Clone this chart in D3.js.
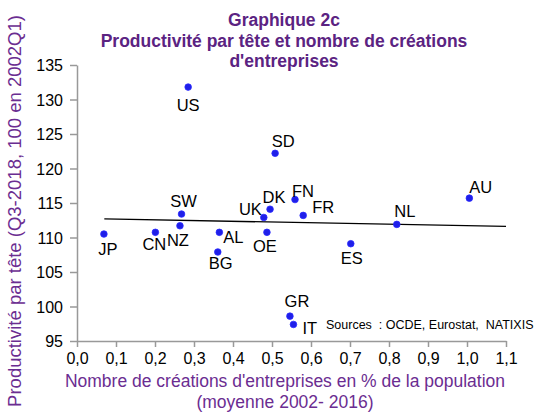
<!DOCTYPE html>
<html>
<head>
<meta charset="utf-8">
<script src="https://cdn.jsdelivr.net/npm/d3@7"></script>
<style>
  body { margin: 0; background: #fff; }
  svg { font-family: "Liberation Sans", Arial, sans-serif; }
</style>
</head>
<body>
<div id="chart"></div>
<script>
// valeurs
const countries = ['US', 'SD', 'SW', 'NZ', 'JP', 'CN', 'AL', 'BG', 'UK', 'DK', 'OE', 'FN', 'FR', 'NL', 'AU', 'ES', 'GR', 'IT'];
const creations = [0.285, 0.508, 0.268, 0.264, 0.069, 0.201, 0.365, 0.361, 0.479, 0.495, 0.487, 0.559, 0.580, 0.820, 1.006, 0.702, 0.546, 0.555];
const productivity = [131.8, 122.2, 113.4, 111.7, 110.5, 110.75, 110.75, 107.9, 112.9, 114.1, 110.75, 115.5, 113.2, 111.9, 115.7, 109.1, 98.6, 97.4];
const trendX = [0.07, 1.1];
const trendY = [112.7, 111.6];
const xTicks = [0, 0.1, 0.2, 0.3, 0.4, 0.5, 0.6, 0.7, 0.8, 0.9, 1.0, 1.1];
const yTicks = [95, 100, 105, 110, 115, 120, 125, 130, 135];

// placement des étiquettes (dx, dy, ancrage)
const labelPos = {
  US: [0, 24, 'middle'], SD: [8, -6, 'middle'], SW: [2, -7, 'middle'],
  NZ: [-2, 20, 'middle'], JP: [4, 21, 'middle'], CN: [-1, 18, 'middle'],
  AL: [4, 11, 'start'], BG: [3, 17, 'middle'], UK: [-2, -2, 'end'],
  DK: [4, -6, 'middle'], OE: [-2, 20, 'middle'], FN: [8, -3, 'middle'],
  FR: [9, -2, 'start'], NL: [8, -7, 'middle'], AU: [0, -5, 'start'],
  ES: [1, 20, 'middle'], GR: [7, -9, 'middle'], IT: [9, 10, 'start']
};

const width = 535, height = 412;
const margin = { top: 65, right: 29, bottom: 71, left: 77 };

const svg = d3.select('#chart').append('svg')
  .attr('width', width).attr('height', height);

const x = d3.scaleLinear().domain([0, 1.1]).range([margin.left, width - margin.right]);
const y = d3.scaleLinear().domain([95, 135]).range([height - margin.bottom, margin.top]);

const fmt = d => d3.format('.1f')(d).replace('.', ',');

// axes
const xAxis = svg.append('g')
  .attr('transform', `translate(0,${y(95)})`)
  .call(d3.axisBottom(x).tickValues(xTicks).tickFormat(fmt).tickSize(6).tickSizeOuter(0).tickPadding(6));
const yAxis = svg.append('g')
  .attr('transform', `translate(${x(0)},0)`)
  .call(d3.axisLeft(y).tickValues(yTicks).tickSize(7).tickSizeOuter(0).tickPadding(7));

[xAxis, yAxis].forEach(g => {
  g.selectAll('path, line').attr('stroke', '#999').attr('stroke-width', 1.5);
  g.selectAll('text').attr('fill', '#000').style('font-size', '16px')
    .style('font-family', '"Liberation Sans", Arial, sans-serif');
});
yAxis.selectAll('text').attr('dy', '0.35em');

// droite de tendance
svg.append('line')
  .attr('x1', x(trendX[0])).attr('y1', y(trendY[0]))
  .attr('x2', x(trendX[1])).attr('y2', y(trendY[1]))
  .attr('stroke', '#000').attr('stroke-width', 1.3);

// points
const pts = countries.map((c, i) => ({ c, x: creations[i], y: productivity[i] }));
svg.append('g').selectAll('circle').data(pts).join('circle')
  .attr('cx', d => x(d.x)).attr('cy', d => y(d.y)).attr('r', 3.3)
  .attr('fill', '#1f1fe8').attr('stroke', '#2a2aff').attr('stroke-width', 0.8);

svg.append('g').selectAll('text').data(pts).join('text')
  .attr('x', d => x(d.x) + labelPos[d.c][0])
  .attr('y', d => y(d.y) + labelPos[d.c][1])
  .attr('text-anchor', d => labelPos[d.c][2])
  .style('font-size', '16.5px')
  .text(d => d.c);

// sources
svg.append('text').attr('x', 326).attr('y', 329)
  .style('font-size', '12.5px').attr('fill', '#000')
  .attr('xml:space', 'preserve')
  .text('Sources  : OCDE, Eurostat,  NATIXIS');

// titre
const title = ['Graphique 2c', 'Productivité par tête et nombre de créations', "d'entreprises"];
svg.append('g').selectAll('text').data(title).join('text')
  .attr('x', 284).attr('y', (d, i) => 26 + i * 20.5)
  .attr('text-anchor', 'middle')
  .attr('fill', '#5b2382').style('font-weight', 'bold').style('font-size', '17.5px')
  .text(d => d);

// titres des axes
svg.append('text').attr('x', 285).attr('y', 387)
  .attr('text-anchor', 'middle').attr('fill', '#6b2d91').style('font-size', '17.5px')
  .text("Nombre de créations d'entreprises en % de la population");
svg.append('text').attr('x', 285).attr('y', 408)
  .attr('text-anchor', 'middle').attr('fill', '#6b2d91').style('font-size', '17.5px')
  .text('(moyenne 2002- 2016)');

svg.append('text')
  .attr('transform', 'translate(21,211) rotate(-90)')
  .attr('text-anchor', 'middle').attr('fill', '#6b2d91').style('font-size', '18.5px')
  .text('Productivité par tête (Q3-2018, 100 en 2002Q1)');
</script>
</body>
</html>
